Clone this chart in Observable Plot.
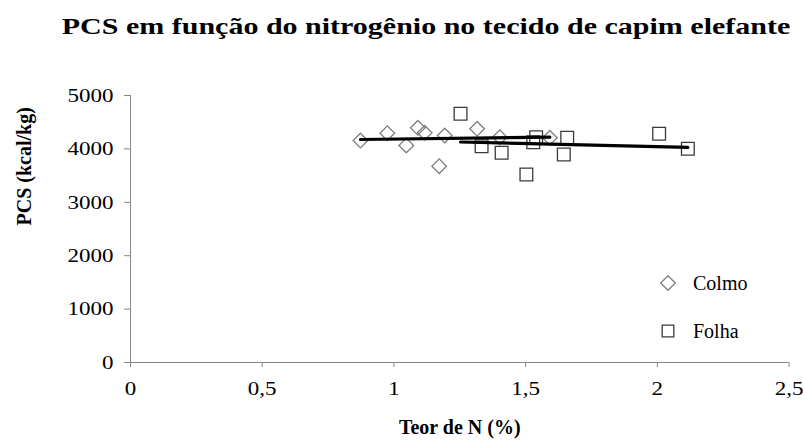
<!DOCTYPE html>
<html>
<head>
<meta charset="utf-8">
<script src="https://cdn.jsdelivr.net/npm/d3@7"></script>
<script src="https://cdn.jsdelivr.net/npm/@observablehq/plot@0.6"></script>
<style>
  html, body { margin: 0; padding: 0; background: #fff; }
  #wrap { position: relative; width: 804px; height: 443px; overflow: hidden; font-family: "Liberation Serif", "Times New Roman", serif; }
  #title { position: absolute; left: 23.5px; top: 14px; width: 804px; height: 24px; line-height: 24px; font-size: 24px; font-weight: bold; text-align: center; color: #000; transform: scaleX(1.25); transform-origin: center; white-space: nowrap; }
  #legend { position: absolute; left: 0; top: 0; }
  #chart svg { display: block; }
</style>
</head>
<body>
<div id="wrap">
  <div id="chart"></div>
  <div id="title">PCS em função do nitrogênio no tecido de capim elefante</div>
  <svg id="legend" width="804" height="443"></svg>
</div>
<script>
// Colmo (stem) series: N content (%) and PCS (kcal/kg)
const colmoN   = [0.873, 0.975, 1.047, 1.091, 1.117, 1.193, 1.172, 1.316, 1.402, 1.592];
const colmoPCS = [4157, 4294, 4064, 4395, 4301, 4251, 3676, 4376, 4219, 4208];
// Folha (leaf) series
const folhaN   = [1.253, 1.333, 1.409, 1.503, 1.529, 1.540, 1.658, 1.645, 2.007, 2.116];
const folhaPCS = [4657, 4051, 3927, 3521, 4126, 4219, 4208, 3895, 4283, 4002];
// axis ticks
const xTicks = [0, 0.5, 1, 1.5, 2, 2.5];
const yTicks = [0, 1000, 2000, 3000, 4000, 5000];
const seriesNames = ["Colmo", "Folha"];

const colmo = colmoN.map((n, i) => ({n, pcs: colmoPCS[i]}));
const folha = folhaN.map((n, i) => ({n, pcs: folhaPCS[i]}));

const axisGray = "#868686";
const colmoStroke = "#7f7f7f";
const folhaStroke = "#3a3a3a";
const fmtX = d => String(d).replace(".", ",");

const plot = Plot.plot({
  width: 804,
  height: 443,
  marginTop: 95,
  marginBottom: 81,
  marginLeft: 130,
  marginRight: 15.5,
  style: {fontFamily: "'Liberation Serif', 'Times New Roman', serif", fontSize: "19.5px", color: "#000", background: "#fff"},
  x: {domain: [0, 2.5]},
  y: {domain: [0, 5000]},
  marks: [
    Plot.axisX({ticks: xTicks, tickFormat: fmtX, tickSize: 5, tickPadding: 14, stroke: axisGray, fill: "#000", label: null}),
    Plot.axisY({ticks: yTicks, tickFormat: d => String(d), tickSize: 6, tickPadding: 11, stroke: axisGray, fill: "#000", label: null}),
    Plot.ruleX([0], {stroke: axisGray}),
    Plot.ruleY([0], {stroke: axisGray}),
    Plot.dot(colmo, {x: "n", y: "pcs", symbol: "diamond2", r: 6.6, stroke: colmoStroke, strokeWidth: 1.3, fill: "none"}),
    Plot.dot(folha, {x: "n", y: "pcs", symbol: "square2", r: 8.1, stroke: folhaStroke, strokeWidth: 1.3, fill: "none"}),
    Plot.linearRegressionY(colmo, {x: "n", y: "pcs", stroke: "#000", strokeWidth: 3.2, ci: 0}),
    Plot.linearRegressionY(folha, {x: "n", y: "pcs", stroke: "#000", strokeWidth: 3.2, ci: 0}),
    Plot.text(["Teor de N (%)"], {frameAnchor: "bottom", dy: 71, fontWeight: "bold", fontSize: 20, fill: "#000"}),
    Plot.text(["PCS (kcal/kg)"], {frameAnchor: "left", dx: -105.5, dy: -3.5, rotate: -90, fontWeight: "bold", fontSize: 20, fill: "#000"})
  ]
});
document.getElementById("chart").appendChild(plot);

// the reference's tick labels are slightly wider than plain Times: stretch horizontally around their anchor
const S = 1.18;
d3.select(plot).selectAll('g[aria-label="x-axis tick label"] text, g[aria-label="y-axis tick label"] text').each(function () {
  const t = d3.select(this);
  const ax = +(t.attr("x") || 0);
  const prev = t.attr("transform") || "";
  t.attr("transform", `${prev} translate(${ax},0) scale(${S},1) translate(${-ax},0)`);
});

// legend
const leg = d3.select("#legend");
const items = [
  {name: seriesNames[0], sym: d3.symbolDiamond2, r: 6.6, stroke: colmoStroke, cy: 283, by: 290},
  {name: seriesNames[1], sym: d3.symbolSquare2, r: 7.4, stroke: folhaStroke, cy: 331, by: 338}
];
for (const s of items) {
  leg.append("path")
    .attr("transform", `translate(668,${s.cy})`)
    .attr("d", d3.symbol(s.sym, s.r * s.r * Math.PI)())
    .attr("fill", "none").attr("stroke", s.stroke).attr("stroke-width", 1.3);
  leg.append("text")
    .attr("x", 693).attr("y", s.by)
    .attr("font-family", "'Liberation Serif', 'Times New Roman', serif")
    .attr("font-size", 20).attr("fill", "#000")
    .text(s.name);
}
</script>
</body>
</html>
